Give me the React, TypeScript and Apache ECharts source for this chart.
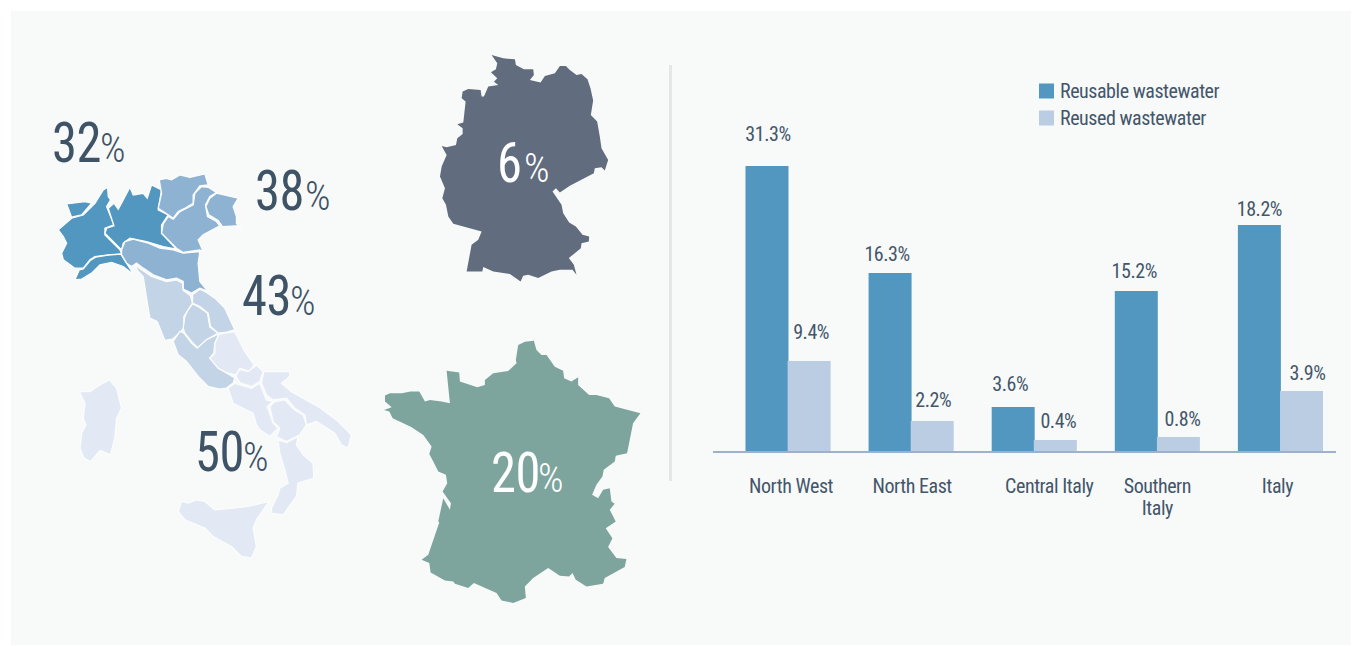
import React, { useEffect, useRef } from "react";
import * as echarts from "echarts";

const categories = ["North West", "North East", "Central Italy", "Southern\nItaly", "Italy"];
const seriesNames = ["Reusable wastewater", "Reused wastewater"];
// Printed values, as labelled in the picture.
const reusableLabels = ["31.3%", "16.3%", "3.6%", "15.2%", "18.2%"];
const reusedLabels = ["9.4%", "2.2%", "0.4%", "0.8%", "3.9%"];
// Bar lengths as drawn in the picture: the source's bars are not proportional to their printed labels.
const reusableHeights = [28.7, 18.0, 4.6, 16.2, 22.8];
const reusedHeights = [9.2, 3.2, 1.3, 1.6, 6.2];
const reusableLabelGaps = [22, 9, 13, 10, 6];
const reusedLabelGaps = [19, 11, 9, 8, 8];
const reusableLabelShift = [1, -3, -3, -2, 0];
const reusedLabelShift = [2, 1, 3, 4, 6];
const categoryPadding = [[0, 0, 0, 6], [0, 0, 0, 2], [0, 0, 0, 30], [0, 0, 0, 0], [0, 6, 0, 0]];

const mapLabels = [
  { big: "32", x: 52, px: 100, y: 143, c: "#3f5367" },
  { big: "38", x: 255, px: 305, y: 191, c: "#3f5367" },
  { big: "43", x: 242, px: 290, y: 296, c: "#3f5367" },
  { big: "50", x: 195, px: 243, y: 452, c: "#3f5367" },
  { big: "6", x: 497, px: 524, y: 163, c: "#ffffff" },
  { big: "20", x: 491, px: 538, y: 473, c: "#ffffff" },
];

const germany = [[215,45],[250,55],[285,58],[288,75],[312,88],[340,88],[342,105],[330,120],[362,128],[375,108],[405,100],[420,78],[438,78],[450,90],[470,105],[485,102],[503,118],[512,145],[520,182],[513,225],[532,245],[540,290],[545,325],[565,360],[555,392],[545,382],[525,385],[522,400],[450,438],[420,458],[408,445],[398,455],[425,495],[430,520],[448,548],[468,560],[488,585],[508,590],[507,605],[485,610],[483,625],[447,655],[462,675],[470,705],[458,690],[420,690],[395,695],[355,715],[325,705],[310,708],[302,725],[270,703],[220,695],[190,682],[187,695],[140,695],[155,615],[175,600],[185,575],[100,552],[85,530],[78,495],[67,475],[75,445],[60,410],[65,380],[80,345],[65,318],[80,322],[108,315],[112,295],[128,282],[128,265],[112,253],[130,248],[137,185],[125,175],[128,155],[145,147],[182,150],[185,170],[192,170],[205,140],[235,135],[222,125],[232,115],[213,97],[228,88],[232,70]];

const france = [[445,45],[465,35],[492,32],[500,60],[515,75],[530,75],[555,110],[580,122],[583,145],[605,155],[625,142],[625,165],[658,195],[680,195],[718,205],[735,230],[812,250],[790,280],[772,370],[738,378],[735,395],[702,420],[698,440],[680,465],[667,495],[685,505],[700,480],[720,475],[725,515],[735,522],[720,540],[738,575],[708,595],[728,625],[715,652],[740,685],[770,688],[765,712],[705,745],[700,762],[650,770],[618,750],[608,730],[598,740],[570,738],[535,715],[490,745],[465,770],[468,805],[430,820],[395,812],[380,790],[312,760],[295,775],[255,762],[250,755],[225,752],[182,728],[178,700],[155,690],[175,675],[208,578],[205,575],[220,505],[240,540],[243,520],[218,485],[232,460],[228,435],[205,425],[190,395],[178,372],[185,350],[160,315],[125,292],[100,280],[68,265],[58,245],[42,240],[65,232],[45,215],[45,197],[60,190],[95,190],[122,185],[148,185],[165,215],[180,210],[215,215],[240,220],[230,122],[268,128],[270,155],[322,172],[345,165],[345,150],[370,130],[415,123],[440,100],[438,90]];

const italyDark = [
  [[80,312],[135,305],[155,310],[125,345],[95,352]],
  [[55,390],[95,355],[130,345],[165,310],[190,270],[203,262],[205,290],[212,300],[200,320],[222,375],[195,385],[195,405],[240,450],[245,462],[205,465],[165,470],[150,480],[130,505],[105,505],[70,480],[65,460],[80,430],[70,410]],
  [[105,540],[118,510],[130,507],[152,481],[167,472],[205,466],[243,463],[260,490],[282,525],[250,500],[215,488],[180,495],[155,520],[125,538]],
  [[222,310],[235,328],[250,300],[270,262],[280,285],[310,280],[322,295],[335,255],[365,270],[355,330],[385,345],[365,375],[365,400],[410,448],[370,440],[320,425],[270,415],[250,430],[245,450],[195,400],[200,385],[222,378],[205,325]],
];
const italyMid = [
  [[358,240],[378,235],[395,240],[420,225],[450,232],[495,222],[505,255],[480,258],[460,285],[460,310],[435,325],[415,335],[400,355],[385,345],[355,325],[365,280]],
  [[400,358],[420,335],[460,315],[465,280],[485,260],[505,262],[530,278],[510,290],[497,315],[503,350],[530,365],[540,378],[490,405],[475,420],[490,455],[480,450],[430,458],[410,445],[365,400],[370,372],[385,350]],
  [[510,295],[530,280],[595,295],[580,320],[590,350],[590,370],[607,395],[590,378],[548,380],[535,362],[507,345],[498,320]],
  [[245,450],[255,425],[280,418],[325,430],[360,445],[400,450],[430,460],[480,455],[475,490],[480,545],[505,575],[480,565],[455,580],[430,568],[430,545],[410,535],[380,540],[340,525],[310,505],[290,490],[275,500],[260,490],[245,465]],
];
const italyLight = [
  [[285,495],[305,510],[335,530],[380,545],[410,540],[428,550],[430,572],[452,588],[458,610],[445,630],[432,650],[432,685],[405,712],[398,718],[375,722],[352,665],[330,655],[320,595],[310,530],[295,515]],
  [[435,650],[445,630],[458,612],[478,622],[503,640],[510,682],[535,700],[500,720],[475,745],[455,725],[435,700],[430,685]],
  [[458,585],[480,568],[500,578],[525,595],[555,625],[585,690],[560,697],[535,700],[512,680],[505,640],[480,620],[458,610]],
  [[400,725],[420,695],[432,700],[455,730],[472,745],[500,720],[538,702],[525,730],[522,760],[510,775],[535,805],[560,820],[585,835],[580,850],[560,865],[540,868],[505,860],[475,830],[440,785],[415,765]],
];
// South traced in a second frame, shifted by (60,660) when drawn.
const italyPale = [
  [[478,42],[525,35],[555,95],[583,135],[570,155],[540,145],[528,165],[500,158],[475,145],[450,115],[465,100],[465,70]],
  [[528,168],[540,148],[565,155],[590,135],[610,155],[600,185],[575,200],[540,188]],
  [[612,155],[690,155],[690,170],[665,190],[695,215],[775,260],[830,300],[875,345],[865,385],[845,375],[825,340],[770,305],[740,315],[735,285],[705,265],[680,235],[640,240],[620,225],[605,190]],
  [[505,205],[525,190],[575,205],[600,190],[620,240],[640,245],[622,260],[640,310],[655,325],[630,350],[600,330],[590,315],[580,280],[550,265],[520,250]],
  [[630,260],[645,245],[675,240],[705,270],[730,285],[740,315],[720,345],[680,365],[650,350],[660,325],[640,305]],
  [[655,360],[680,368],[715,350],[710,375],[730,405],[760,430],[762,475],[715,490],[710,530],[670,585],[635,580],[635,565],[655,525],[660,505],[685,490],[675,450],[660,400]],
  [[355,575],[365,545],[385,550],[410,540],[435,545],[465,570],[520,565],[565,560],[628,545],[590,600],[580,625],[590,680],[575,715],[545,710],[515,680],[460,650],[435,625],[375,600]],
  [[58,215],[90,215],[120,195],[148,180],[170,205],[185,265],[170,295],[165,350],[152,405],[120,392],[92,425],[72,415],[60,385],[65,340],[78,315],[70,295],[75,250]],
];

const FONT = "Roboto, sans-serif";
const INK = "#44566a";
const LINE = "#fbfcfc";

const shape = (pts: number[][], ox: number, oy: number, fill: string, lw = 0) => ({
  type: "polygon",
  x: ox,
  y: oy,
  scaleX: 1 / 3,
  scaleY: 1 / 3,
  shape: { points: pts },
  style: { fill, stroke: lw ? LINE : undefined, lineWidth: lw * 3 },
  z: 1,
  silent: true,
});

export default function App() {
  const ref = useRef<HTMLDivElement>(null);
  useEffect(() => {
    document.body.style.margin = "0";
    const css = document.createElement("style");
    css.textContent =
      'svg text { font-stretch: 75% !important; font-variation-settings: "wdth" 75 !important; letter-spacing: -0.45px; }';
    document.head.appendChild(css);
    const chart = echarts.init(ref.current!, undefined, { renderer: "svg" });
    const barLabel = { show: true, position: "top" as const, color: INK, fontFamily: FONT, fontSize: 20, lineHeight: 20 };
    chart.setOption({
      animation: false,
      backgroundColor: "#ffffff",
      legend: {
        left: 1034,
        top: 76,
        orient: "vertical",
        itemWidth: 15,
        itemHeight: 15,
        itemGap: 7,
        icon: "rect",
        data: seriesNames,
        textStyle: { color: INK, fontFamily: FONT, fontSize: 20, padding: [0, 0, 0, 1] },
      },
      grid: { left: 726.5, width: 615.5, top: 53, height: 400 },
      xAxis: {
        type: "category",
        data: categories.map((c, i) => ({ value: c, textStyle: { padding: categoryPadding[i] } })),
        axisLine: { show: false },
        axisTick: { show: false },
        axisLabel: { color: INK, fontFamily: FONT, fontSize: 20, lineHeight: 22, margin: 22, interval: 0 },
      },
      yAxis: { type: "value", min: 0, max: 40, show: false },
      series: [
        {
          name: seriesNames[0],
          type: "bar",
          barWidth: 43,
          barGap: "-2%",
          itemStyle: { color: "#5197bf" },
          data: reusableHeights.map((v, i) => ({
            value: v,
            label: {
              ...barLabel,
              distance: reusableLabelGaps[i],
              offset: [reusableLabelShift[i], 0],
              formatter: reusableLabels[i],
            },
          })),
        },
        {
          name: seriesNames[1],
          type: "bar",
          barWidth: 43,
          itemStyle: { color: "#bacde2" },
          data: reusedHeights.map((v, i) => ({
            value: v,
            label: {
              ...barLabel,
              distance: reusedLabelGaps[i],
              offset: [reusedLabelShift[i], 0],
              formatter: reusedLabels[i],
            },
          })),
        },
      ],
      graphic: [
        { type: "rect", shape: { x: 11, y: 11, width: 1340, height: 634 }, style: { fill: "#f8fafa" }, z: -1, silent: true },
        { type: "line", shape: { x1: 670.5, y1: 65, x2: 670.5, y2: 481 }, style: { stroke: "#e4e6e8", lineWidth: 3 }, z: 1, silent: true },
        { type: "line", shape: { x1: 713, y1: 452, x2: 1336, y2: 452 }, style: { stroke: "#9fb0cd", lineWidth: 2 }, z: 10, silent: true },
        shape(germany, 420, 40, "#616d7e"),
        shape(france, 370, 330, "#7ea59d"),
        ...italyDark.map((p) => shape(p, 40, 100, "#5197bf", 1.3)),
        ...italyMid.map((p) => shape(p, 40, 100, "#8eb3d2", 1.3)),
        ...italyLight.map((p) => shape(p, 40, 100, "#c3d4e7", 1.3)),
        ...italyPale.map((p) => shape(p, 60, 320, "#e2e9f4", 1.3)),
        ...mapLabels.flatMap((l) => [
          {
            type: "text",
            x: l.x,
            y: l.y,
            scaleX: 0.92,
            z: 5,
            silent: true,
            style: { text: l.big, fill: l.c, verticalAlign: "middle", fontFamily: FONT, fontSize: 55 },
          },
          {
            type: "text",
            x: l.px,
            y: l.y + 5.5,
            z: 5,
            silent: true,
            style: { text: "%", fill: l.c, verticalAlign: "middle", fontFamily: FONT, fontSize: 40, fontWeight: 300 },
          },
        ]),
      ],
    });
    return () => chart.dispose();
  }, []);
  return <div ref={ref} style={{ width: 1362, height: 646 }} />;
}
